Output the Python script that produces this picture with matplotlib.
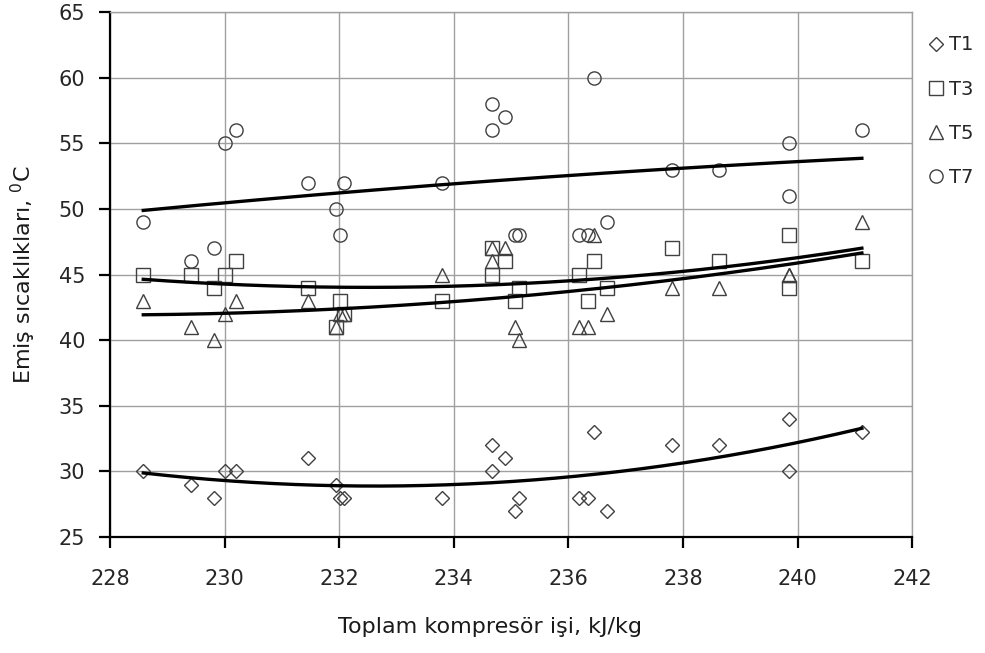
import numpy as np
import matplotlib
matplotlib.use('Agg')
import matplotlib.pyplot as plt

plt.rcParams['font.family'] = ['DejaVu Sans']

# Toplam kompresör işi (kJ/kg) - same x for all series
work = [228.58, 229.42, 229.82, 230.0, 230.2, 231.46, 231.95, 232.01, 232.08, 233.8,
        234.66, 234.66, 234.9, 235.06, 235.13, 236.18, 236.34, 236.45, 236.67, 237.81,
        238.62, 239.85, 239.85, 241.12]

t1 = [30, 29, 28, 30, 30, 31, 29, 28, 28, 28,
      32, 30, 31, 27, 28, 28, 28, 33, 27, 32,
      32, 34, 30, 33]
t3 = [45, 45, 44, 45, 46, 44, 41, 43, 42, 43,
      47, 45, 46, 43, 44, 45, 43, 46, 44, 47,
      46, 48, 44, 46]
t5 = [43, 41, 40, 42, 43, 43, 41, 42, 42, 45,
      47, 46, 47, 41, 40, 41, 41, 48, 42, 44,
      44, 45, 45, 49]
t7 = [49, 46, 47, 55, 56, 52, 50, 48, 52, 52,
      58, 56, 57, 48, 48, 48, 48, 60, 49, 53,
      53, 55, 51, 56]

names = ['T1', 'T3', 'T5', 'T7']
series = [t1, t3, t5, t7]
markers = ['D', 's', '^', 'o']
msizes = [7, 9.5, 9.5, 9.5]

fig = plt.figure(figsize=(9.85, 6.53), dpi=100)
ax = fig.add_axes([0.1117, 0.1776, 0.8145, 0.804])

x = np.array(work)
for name, y, m, ms in zip(names, series, markers, msizes):
    ax.plot(x, y, linestyle='none', marker=m, markersize=ms, markerfacecolor='none',
            markeredgecolor='#404040', markeredgewidth=1.0, label=name, zorder=3)

# polynomial trendlines (order 2)
xx = np.linspace(x.min(), x.max(), 200)
for y in series:
    c = np.polyfit(x, y, 2)
    ax.plot(xx, np.polyval(c, xx), color='black', lw=2.4, zorder=4)

ax.set_xlim(228, 242)
ax.set_ylim(25, 65)
ax.set_xticks(np.arange(228, 243, 2))
ax.set_yticks(np.arange(25, 66, 5))
ax.grid(True, color='#a0a0a0', lw=1.0)
ax.set_axisbelow(True)

for s in ['top', 'right']:
    ax.spines[s].set_color('#a0a0a0')
    ax.spines[s].set_linewidth(1.0)
for s in ['left', 'bottom']:
    ax.spines[s].set_color('black')
    ax.spines[s].set_linewidth(1.6)

ax.tick_params(direction='out', length=8, width=1.6, colors='black',
               labelsize=15, labelcolor='#262626', pad=10)
ax.tick_params(axis='x', pad=15)

ax.set_xlabel('Toplam kompresör işi, kJ/kg', fontsize=16, color='#1a1a1a')
ax.xaxis.set_label_coords(0.474, -0.152)
ax.set_ylabel('Emiş sıcaklıkları, $^{0}$C', fontsize=16, color='#1a1a1a', labelpad=15)

leg = ax.legend(loc='upper left', bbox_to_anchor=(1.0, 0.985), frameon=False,
                fontsize=14, handlelength=0.8, handletextpad=0.3, labelspacing=1.3,
                labelcolor='#262626', borderaxespad=0.4)

fig.savefig('out.png', dpi=100)
